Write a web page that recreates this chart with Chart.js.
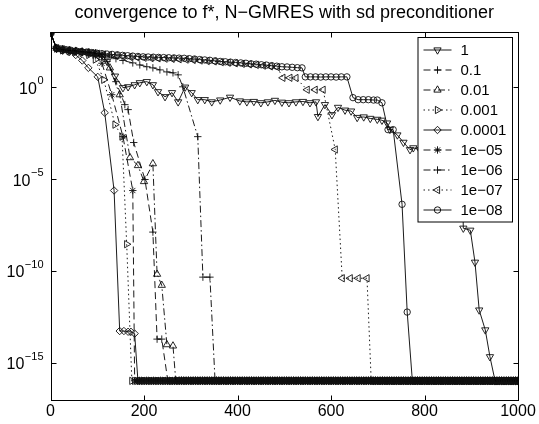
<!DOCTYPE html>
<html>
<head>
<meta charset="utf-8">
<script src="https://cdn.jsdelivr.net/npm/chart.js@4.4.0/dist/chart.umd.min.js"></script>
<style>
  html, body { margin: 0; padding: 0; background: #fff; }
  #chart { display: block; }
</style>
</head>
<body>
<canvas id="chart" width="539" height="424"></canvas>
<script>
// values are [iteration, log10(f - f*)]
const chartTitle = 'convergence to f*, N\u2212GMRES with sd preconditioner';
const seriesNames = ['1', '0.1', '0.01', '0.001', '0.0001', '1e\u221205', '1e\u221206', '1e\u221207', '1e\u221208'];

const s1 = [[0,2.95],[13,2.1],[26,2.05],[40,2.0],[54,1.97],[68,1.93],[82,1.9],[96,1.85],[110,1.75],[121,1.4],
  [138,0.6],[155,-0.03],[166,0.02],[180,0.13],[191,0.24],[206,0.3],[219,0.13],[230,-0.25],[245,-0.52],[260,-0.3],
  [273,-0.8],[288,0.0],[302,-0.3],[315,-0.68],[330,-0.68],[345,-0.8],[363,-0.7],[384,-0.55],[405,-0.75],[420,-0.8],
  [435,-0.78],[450,-0.85],[465,-0.8],[480,-0.72],[495,-0.82],[510,-0.85],[525,-0.8],[540,-0.78],[555,-0.85],[568,-0.8],
  [572,-1.6],[587,-0.95],[602,-1.5],[615,-1.1],[630,-1.25],[643,-1.3],[656,-1.65],[670,-1.62],[684,-1.7],[699,-1.75],
  [709,-1.8],[720,-1.95],[726,-2.3],[742,-2.6],[755,-3.0],[769,-3.4],[776,-3.3],[790,-3.4],[805,-3.45],[820,-3.5],
  [835,-3.5],[850,-3.55],[865,-3.6],[880,-3.6],[883,-7.67],[898,-7.78],[908,-9.52],[917,-12.12],[930,-13.2],[940,-14.66],
  [951,-15.97]];
const s2 = [[0,2.95],[13,2.1],[26,2.02],[40,1.98],[54,1.95],[68,1.9],[82,1.85],[96,1.8],[110,1.65],[121,1.4],
  [140,0.3],[159,-0.95],[166,-1.22],[178,-3.01],[202,-5.02],[219,-7.88],[228,-13.7],[238,-13.7],[251,-15.97]];
const s3 = [[0,2.95],[13,2.12],[26,2.05],[40,2.0],[54,1.96],[68,1.92],[82,1.88],[96,1.82],[110,1.6],[127,1.05],
  [148,-0.41],[170,-3.83],[187,-4.26],[200,-5.13],[219,-4.16],[228,-10.17],[238,-10.77],[249,-14.0],[262,-14.07],[268,-15.97]];
const s4 = [[0,2.95],[13,2.1],[26,2.0],[40,1.95],[54,1.9],[68,1.85],[82,1.75],[96,1.5],[114,0.4],[138,-2.04],
  [153,-2.69],[163,-8.54],[174,-15.97]];
const s5 = [[0,2.95],[13,2.1],[26,1.98],[40,1.9],[54,1.75],[68,1.45],[81,1.05],[101,0.56],[116,-1.39],[136,-5.62],
  [148,-13.26],[157,-13.26],[166,-13.3],[172,-13.3],[180,-13.4],[187,-15.97]];
const s6 = [[0,2.95],[13,2.12],[26,2.05],[40,2.0],[54,1.95],[68,1.9],[82,1.82],[96,1.7],[110,1.3],[131,-0.41],
  [155,-2.69],[176,-5.62],[180,-15.97]];
const s7 = [[0,2.95],[13,2.1],[26,2.05],[40,2.0],[54,1.97],[68,1.93],[82,1.9],[96,1.86],[110,1.8],[125,1.7],
  [140,1.55],[155,1.45],[176,1.32],[191,1.21],[206,1.11],[219,1.05],[234,0.94],[249,0.83],[262,0.78],[273,0.67],
  [283,0.02],[315,-2.69],[326,-10.33],[341,-10.33],[352,-15.97]];
const s8 = [[0,2.95],[13,2.12],[25,2.06],[38,2.0],[50,1.96],[63,1.92],[76,1.88],[88,1.85],[100,1.82],[113,1.78],
  [126,1.75],[140,1.72],[155,1.68],[170,1.65],[185,1.62],[200,1.6],[215,1.58],[230,1.57],[245,1.55],[260,1.54],
  [275,1.52],[290,1.5],[305,1.48],[320,1.45],[335,1.42],[350,1.4],[365,1.36],[380,1.33],[395,1.3],[410,1.27],
  [425,1.24],[440,1.21],[455,1.17],[470,1.13],[485,1.09],[497,0.51],[512,0.51],[525,0.5],[549,-0.14],[566,-0.14],
  [583,-0.14],[609,-3.39],[624,-10.39],[641,-10.39],[658,-10.39],[677,-10.39],[686,-15.97]];
const s9 = [[0,2.95],[13,2.12],[22,2.08],[33,2.04],[44,2.0],[55,1.97],[66,1.94],[77,1.91],[88,1.88],[99,1.85],
  [110,1.82],[121,1.8],[132,1.78],[143,1.76],[154,1.73],[165,1.71],[176,1.69],[187,1.67],[198,1.65],[209,1.64],
  [220,1.63],[231,1.62],[242,1.61],[253,1.6],[264,1.59],[275,1.58],[286,1.57],[297,1.55],[308,1.53],[319,1.5],
  [330,1.48],[341,1.46],[352,1.43],[363,1.4],[374,1.38],[385,1.36],[396,1.34],[407,1.32],[418,1.3],[429,1.27],
  [440,1.25],[451,1.22],[462,1.2],[473,1.17],[484,1.14],[495,1.11],[506,1.1],[517,1.08],[528,1.06],[538,1.05],
  [545,0.56],[556,0.56],[567,0.56],[578,0.55],[589,0.56],[600,0.56],[611,0.55],[622,0.56],[634,0.56],[647,-0.57],
  [658,-0.68],[669,-0.68],[680,-0.68],[691,-0.7],[699,-0.7],[709,-0.85],[722,-2.31],[733,-2.31],[752,-6.37],[763,-12.23],
  [774,-15.97]];

// every run ends on the machine-precision floor, marked densely
const floorLog = -15.97;
const floorIters = [175,180,185,190,195,200,205,210,215,220,225,230,235,240,245,250,255,260,265,270,
  275,280,285,290,295,300,305,310,315,320,325,330,335,340,345,350,355,360,365,370,
  375,380,385,390,395,400,405,410,415,420,425,430,435,440,445,450,455,460,465,470,
  475,480,485,490,495,500,505,510,515,520,525,530,535,540,545,550,555,560,565,570,
  575,580,585,590,595,600,605,610,615,620,625,630,635,640,645,650,655,660,665,670,
  675,680,685,690,695,700,705,710,715,720,725,730,735,740,745,750,755,760,765,770,
  775,780,785,790,795,800,805,810,815,820,825,830,835,840,845,850,855,860,865,870,
  875,880,885,890,895,900,905,910,915,920,925,930,935,940,945,950,955,960,965,970,
  975,980,985,990,995,1000];

const xTicks = [0, 200, 400, 600, 800, 1000];
const yTicks = [1, 1e-5, 1e-10, 1e-15];
const yTickExp = ['0', '\u22125', '\u221210', '\u221215'];

const allSeries = [s1, s2, s3, s4, s5, s6, s7, s8, s9];

const solid = [];
const dashed = [7, 4];
const dotted = [1.5, 3];
const dashDot = [7, 3, 1.5, 3];
const lineStyles = [solid, dashed, dashDot, dotted, solid, dashed, dashDot, dotted, solid];
const markers = [
  {pointStyle: 'triangle', rotation: 180, radius: 4.2},
  {pointStyle: 'cross', rotation: 0, radius: 3.7},
  {pointStyle: 'triangle', rotation: 0, radius: 4.2},
  {pointStyle: 'triangle', rotation: 90, radius: 4.2},
  {pointStyle: 'rectRot', rotation: 0, radius: 3.7},
  {pointStyle: 'star', rotation: 0, radius: 3.7},
  {pointStyle: 'cross', rotation: 0, radius: 3.7},
  {pointStyle: 'triangle', rotation: 270, radius: 4.2},
  {pointStyle: 'circle', rotation: 0, radius: 3.2}
];

const FONT = '"Liberation Sans", Arial, Helvetica, sans-serif';

const datasets = allSeries.map((pts, k) => {
  const last = pts[pts.length - 1][0];
  const data = pts.map(p => ({x: p[0], y: Math.pow(10, p[1])}));
  floorIters.filter(i => i > last + 2).forEach(i => data.push({x: i, y: Math.pow(10, floorLog)}));
  return {
    label: seriesNames[k],
    data: data,
    borderColor: '#000',
    borderWidth: 0.9,
    borderDash: lineStyles[k],
    fill: false,
    tension: 0,
    pointStyle: markers[k].pointStyle,
    pointRotation: markers[k].rotation,
    pointRadius: markers[k].radius,
    pointBorderColor: '#111',
    pointBorderWidth: 0.9,
    pointBackgroundColor: 'rgba(0,0,0,0)'
  };
});

const matlabAxes = {
  id: 'matlabAxes',
  afterDatasetsDraw(chart) {
    const ctx = chart.ctx;
    const a = chart.chartArea;
    const x = chart.scales.x;
    const y = chart.scales.y;
    const L = Math.round(a.left) + 0.5, R = Math.round(a.right) + 0.5;
    const T = Math.round(a.top) + 0.5, B = Math.round(a.bottom) + 0.5;

    ctx.save();
    ctx.strokeStyle = '#000';
    ctx.lineWidth = 1;
    ctx.setLineDash([]);
    ctx.strokeRect(L, T, R - L, B - T);

    // inward ticks on all four sides
    ctx.beginPath();
    xTicks.forEach(v => {
      const px = Math.round(x.getPixelForValue(v)) + 0.5;
      ctx.moveTo(px, B); ctx.lineTo(px, B - 5);
      ctx.moveTo(px, T); ctx.lineTo(px, T + 5);
    });
    yTicks.forEach(v => {
      const py = Math.round(y.getPixelForValue(v)) + 0.5;
      ctx.moveTo(L, py); ctx.lineTo(L + 5, py);
      ctx.moveTo(R, py); ctx.lineTo(R - 5, py);
    });
    ctx.stroke();

    // title centred over the axes
    ctx.fillStyle = '#000';
    ctx.textAlign = 'center';
    ctx.textBaseline = 'middle';
    ctx.font = '18px ' + FONT;
    ctx.fillText(chartTitle, (a.left + a.right) / 2, 13);

    // 10^n labels
    ctx.textAlign = 'right';
    yTicks.forEach((v, k) => {
      const py = y.getPixelForValue(v);
      const right = a.left - 7;
      ctx.font = '11px ' + FONT;
      const w = ctx.measureText(yTickExp[k]).width;
      ctx.fillText(yTickExp[k], right, py - 6);
      ctx.font = '16px ' + FONT;
      ctx.fillText('10', right - w - 0.5, py + 2);
    });

    // legend box, top right inside the axes
    const boxR = Math.round(a.right) - 5.5;
    const boxL = boxR - 94.5;
    const boxT = Math.round(a.top) + 5.5;
    const rowH = 20;
    const boxB = boxT + 184.5;
    ctx.fillStyle = '#fff';
    ctx.fillRect(boxL, boxT, boxR - boxL, boxB - boxT);
    ctx.strokeRect(boxL, boxT, boxR - boxL, boxB - boxT);

    ctx.textAlign = 'left';
    ctx.font = '15px ' + FONT;
    datasets.forEach((ds, k) => {
      const cy = boxT + 12.5 + rowH * k;
      ctx.strokeStyle = '#000';
      ctx.lineWidth = 0.9;
      ctx.setLineDash(lineStyles[k]);
      ctx.beginPath();
      ctx.moveTo(boxL + 5.5, cy);
      ctx.lineTo(boxL + 33.5, cy);
      ctx.stroke();
      ctx.setLineDash([]);
      ctx.lineWidth = 0.9;
      ctx.fillStyle = 'rgba(0,0,0,0)';
      Chart.helpers.drawPoint(ctx, {
        pointStyle: markers[k].pointStyle,
        rotation: markers[k].rotation,
        radius: markers[k].radius,
        borderWidth: 0.9
      }, boxL + 19.5, cy);
      ctx.fillStyle = '#000';
      ctx.fillText(ds.label, boxL + 42.5, cy + 1);
    });
    ctx.restore();
  }
};

new Chart(document.getElementById('chart'), {
  type: 'line',
  data: {datasets: datasets},
  options: {
    responsive: false,
    animation: false,
    devicePixelRatio: 1,
    layout: {padding: {left: 0, right: 21, top: 32, bottom: 1}},
    plugins: {
      legend: {display: false},
      tooltip: {enabled: false},
      title: {display: false}
    },
    scales: {
      x: {
        type: 'linear',
        min: 0,
        max: 1000,
        ticks: {
          stepSize: 200,
          color: '#000',
          font: {size: 16, family: FONT},
          padding: 2,
          maxRotation: 0,
          callback: v => String(v)
        },
        grid: {display: false, drawTicks: false},
        border: {display: false}
      },
      y: {
        type: 'logarithmic',
        min: 1e-17,
        max: 1e3,
        afterBuildTicks: scale => { scale.ticks = yTicks.map(v => ({value: v})); },
        afterFit: scale => { scale.width = 50.5; },
        ticks: {callback: () => ''},
        grid: {display: false, drawTicks: false},
        border: {display: false}
      }
    }
  },
  plugins: [matlabAxes]
});
</script>
</body>
</html>
